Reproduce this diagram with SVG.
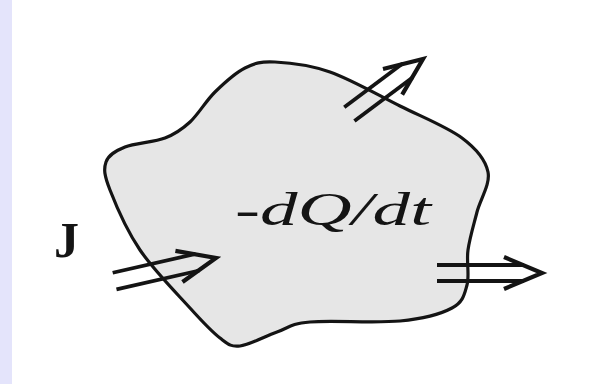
<svg xmlns="http://www.w3.org/2000/svg" width="593" height="384" viewBox="0 0 593 384">
  <style>
    .blob { fill: #e6e6e6; stroke: #141414; stroke-width: 3.2; stroke-linejoin: round; }
    .shaft { stroke: #141414; stroke-width: 3.8; stroke-linecap: butt; fill: none; }
    .head { stroke: #141414; stroke-width: 4.2; fill: none; stroke-linejoin: miter; stroke-linecap: butt; }
    .lbl { font-family: "Liberation Serif", "Times New Roman", serif; fill: #141414; }
  </style>
  <defs>
    <path id="chev" class="head" d="M-38,-16 L0,0 L-38,16"/>
  </defs>
  <rect x="0" y="0" width="593" height="384" fill="#ffffff"/>
  <rect id="strip" x="0" y="0" width="12" height="384" fill="#e4e4fb"/>

  <g id="region">
    <path class="blob" d="M275,62 C289.2,62.7 309.2,64.7 330,72 C350.8,79.3 378,95 400,106 C422,117 447.3,127 462,138 C476.7,149 485.5,159.7 488,172 C490.5,184.3 480.3,199 477,212 C473.7,225 469.7,237.8 468,250 C466.3,262.2 469.7,275.3 467,285 C464.3,294.7 463.2,302 452,308 C440.8,314 423.7,318.7 400,321 C376.3,323.3 330.5,320.2 310,322 C289.5,323.8 288.7,328 277,332 C265.3,336 249.5,345 240,346 C230.5,347 228.3,344.3 220,338 C211.7,331.7 203.3,322.7 190,308 C176.7,293.3 153.3,269.7 140,250 C126.7,230.3 115.7,204.7 110,190 C104.3,175.3 103.5,169.2 106,162 C108.5,154.8 115.2,151 125,147 C134.8,143 154.2,142.2 165,138 C175.8,133.8 181.7,129.7 190,122 C198.3,114.3 205.8,101 215,92 C224.2,83 235,73 245,68 C255,63 260.8,61.3 275,62 Z"/>
    <text class="lbl" x="235" y="225" font-size="47" font-style="italic" textLength="196" lengthAdjust="spacingAndGlyphs">-dQ/dt</text>
  </g>

  <g id="label-J">
    <text class="lbl" x="54" y="257" font-size="50" font-weight="bold">J</text>
  </g>

  <g id="connectors">
    <g id="arrow-in" transform="translate(216,258) rotate(-12.8)">
      <line class="shaft" x1="-104" y1="-8.5" x2="-19" y2="-8.5"/>
      <line class="shaft" x1="-104" y1="8.5" x2="-19" y2="8.5"/>
      <use href="#chev"/>
    </g>
    <g id="arrow-top" transform="translate(423,59) rotate(-36.8)">
      <line class="shaft" x1="-92" y1="-8.5" x2="-19" y2="-8.5"/>
      <line class="shaft" x1="-92" y1="8.5" x2="-19" y2="8.5"/>
      <use href="#chev"/>
    </g>
    <g id="arrow-right" transform="translate(542,273)">
      <line class="shaft" x1="-105" y1="-8" x2="-18" y2="-8"/>
      <line class="shaft" x1="-105" y1="8" x2="-18" y2="8"/>
      <use href="#chev"/>
    </g>
  </g>
</svg>
